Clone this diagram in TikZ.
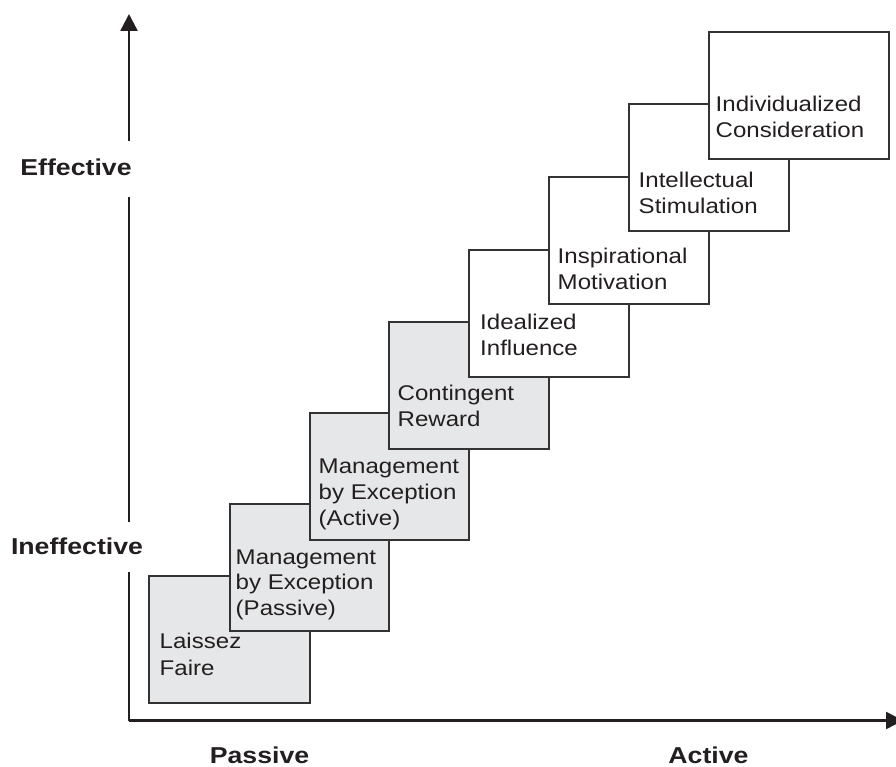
\documentclass[tikz,border=0pt]{standalone}
\usepackage{fontspec}
\setmainfont[FakeStretch=1.13]{Liberation Sans}
\newfontfamily\labfont[FakeStretch=1.16]{Liberation Sans}
\usetikzlibrary{arrows.meta}
\definecolor{boxgray}{HTML}{E6E7E8}
\definecolor{ink}{HTML}{231F20}
\definecolor{edge}{HTML}{333333}
\begin{document}
\begin{tikzpicture}[x=1pt,y=-1pt,
  stepbox/.style={draw=edge, line width=2pt, anchor=north west, inner sep=0pt, outer sep=0pt,
    minimum width=160pt, minimum height=127pt, rectangle},
  graybox/.style={stepbox, fill=boxgray},
  whitebox/.style={stepbox, fill=white},
  txt/.style={anchor=base west, inner sep=0pt, text=ink, font=\fontsize{21.3}{26}\selectfont},
  lab/.style={anchor=base, inner sep=0pt, text=ink, font=\labfont\bfseries\fontsize{23}{27}\selectfont},
  axis/.style={draw=ink, line width=2.5pt},
  axisarrow/.style={axis, -{Triangle[length=17pt,width=17pt]}}]
\useasboundingbox (0,0) rectangle (896,767);

% axes
\coordinate (o) at (129,720.5);
\coordinate (ytop) at (129,14);
\coordinate (xend) at (903,720.5);
\coordinate (ga) at (129,572);
\coordinate (gb) at (129,522);
\coordinate (gc) at (129,197);
\coordinate (gd) at (129,141);
\draw[axis] (o) -- (ga);
\draw[axis] (gb) -- (gc);
\draw[axisarrow] (gd) -- (ytop);
\draw[axisarrow] (o) -- (xend);

\node[lab] (eff) at (76,176) {Effective};
\node[lab] (ineff) at (77,554) {Ineffective};
\node[lab] (pas) at (259.5,763) {Passive};
\node[lab] (act) at (708.5,763) {Active};

% boxes
\node[graybox, minimum width=160.5pt] (b1) at (149,576) {};
\node[graybox, minimum width=159.5pt] (b2) at (229.5,504) {};
\node[graybox, minimum width=159.5pt] (b3) at (309.5,413) {};
\node[graybox, minimum width=159.7pt] (b4) at (389,322) {};
\node[whitebox, minimum width=159.7pt] (b5) at (469,250) {};
\node[whitebox, minimum width=159.7pt, minimum height=126.5pt] (b6) at (549,177.3) {};
\node[whitebox, minimum width=160.6pt, minimum height=126.7pt] (b7) at (628.7,104.3) {};
\node[whitebox, minimum width=180.3pt] (b8) at (708.7,32) {};

% texts
\node[txt] (t1a) at (159.5,648.3) {Laissez};
\node[txt] (t1b) at (159.5,675) {Faire};
\node[txt] (t2a) at (235.5,564) {Management};
\node[txt] (t2b) at (235.5,589.8) {by Exception};
\node[txt] (t2c) at (235.5,615.6) {(Passive)};
\node[txt] (t3a) at (318.5,473.3) {Management};
\node[txt] (t3b) at (318.5,499.3) {by Exception};
\node[txt] (t3c) at (318.5,525.3) {(Active)};
\node[txt] (t4a) at (397.5,400) {Contingent};
\node[txt] (t4b) at (397.5,426) {Reward};
\node[txt] (t5a) at (480,329.3) {Idealized};
\node[txt] (t5b) at (480,355) {Influence};
\node[txt] (t6a) at (557.5,263.3) {Inspirational};
\node[txt] (t6b) at (557.5,289.3) {Motivation};
\node[txt] (t7a) at (638.5,187.5) {Intellectual};
\node[txt] (t7b) at (638.5,213.3) {Stimulation};
\node[txt] (t8a) at (715.5,111.7) {Individualized};
\node[txt] (t8b) at (715.5,137.5) {Consideration};
\end{tikzpicture}
\end{document}
